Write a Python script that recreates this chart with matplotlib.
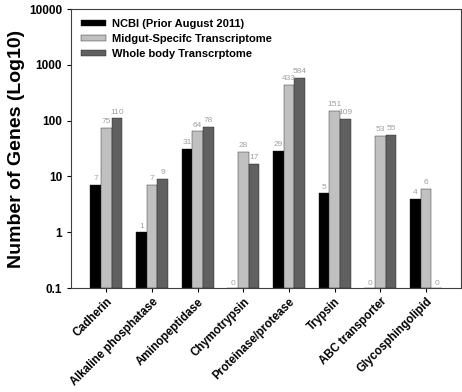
import numpy as np
import matplotlib
matplotlib.use('Agg')
import matplotlib.pyplot as plt
from matplotlib.ticker import FixedLocator, FixedFormatter, NullLocator

categories = ['Cadherin', 'Alkaline phosphatase', 'Aminopeptidase', 'Chymotrypsin',
              'Proteinase/protease', 'Trypsin', 'ABC transporter', 'Glycosphingolipid']
ncbi = [7, 1, 31, 0, 29, 5, 0, 4]
midgut = [75, 7, 64, 28, 433, 151, 53, 6]
whole = [110, 9, 78, 17, 584, 109, 55, 0]
series_names = ['NCBI (Prior August 2011)', 'Midgut-Specifc Transcriptome',
                'Whole body Transcrptome']
colors = ['#000000', '#c0c0c0', '#606060']

plt.rcParams['font.family'] = ['Liberation Sans', 'DejaVu Sans']
fig = plt.figure(figsize=(4.62, 3.92), dpi=100)
ax = fig.add_axes([0.154, 0.265, 0.844, 0.712])

x = np.arange(len(categories))
w = 0.235
ymin = 0.1
for i, (vals, name, c) in enumerate(zip([ncbi, midgut, whole], series_names, colors)):
    pos = x + (i - 1) * w
    heights = [v - ymin if v > 0 else 0 for v in vals]
    ax.bar(pos, heights, bottom=ymin, width=w, color=c,
           edgecolor='#202020', linewidth=0.3, label=name)
    for p, v in zip(pos, vals):
        yy = v * 1.12 if v > 0 else 0.105
        ax.text(p, yy, str(v), ha='center', va='bottom', fontsize=6, color='#a0a0a0')

ax.set_yscale('log')
ax.set_ylim(0.1, 10000)
ax.set_xlim(-0.77, 7.77)
ax.yaxis.set_major_locator(FixedLocator([0.1, 1, 10, 100, 1000, 10000]))
ax.yaxis.set_major_formatter(FixedFormatter(['0.1', '1', '10', '100', '1000', '10000']))
ax.yaxis.set_minor_locator(NullLocator())
ax.set_xticks(x)
ax.set_xticklabels(categories, rotation=45, ha='right', rotation_mode='anchor',
                   fontsize=8.3, fontweight='bold')
for lab in ax.get_yticklabels():
    lab.set_fontweight('bold')
    lab.set_fontsize(8.5)
ax.tick_params(direction='out', length=3, width=0.8)
ax.tick_params(axis='x', pad=2.5)
ax.set_ylabel('Number of Genes (Log10)', fontsize=14, fontweight='bold', labelpad=3)
for s in ax.spines.values():
    s.set_color('#404040')
    s.set_linewidth(0.8)

ax.legend(loc='upper left', frameon=False, prop={'weight': 'bold', 'size': 8},
          handlelength=2.2, handleheight=0.5, handletextpad=0.55,
          borderaxespad=0.5, labelspacing=0.45)

fig.savefig('out.png', dpi=100)
